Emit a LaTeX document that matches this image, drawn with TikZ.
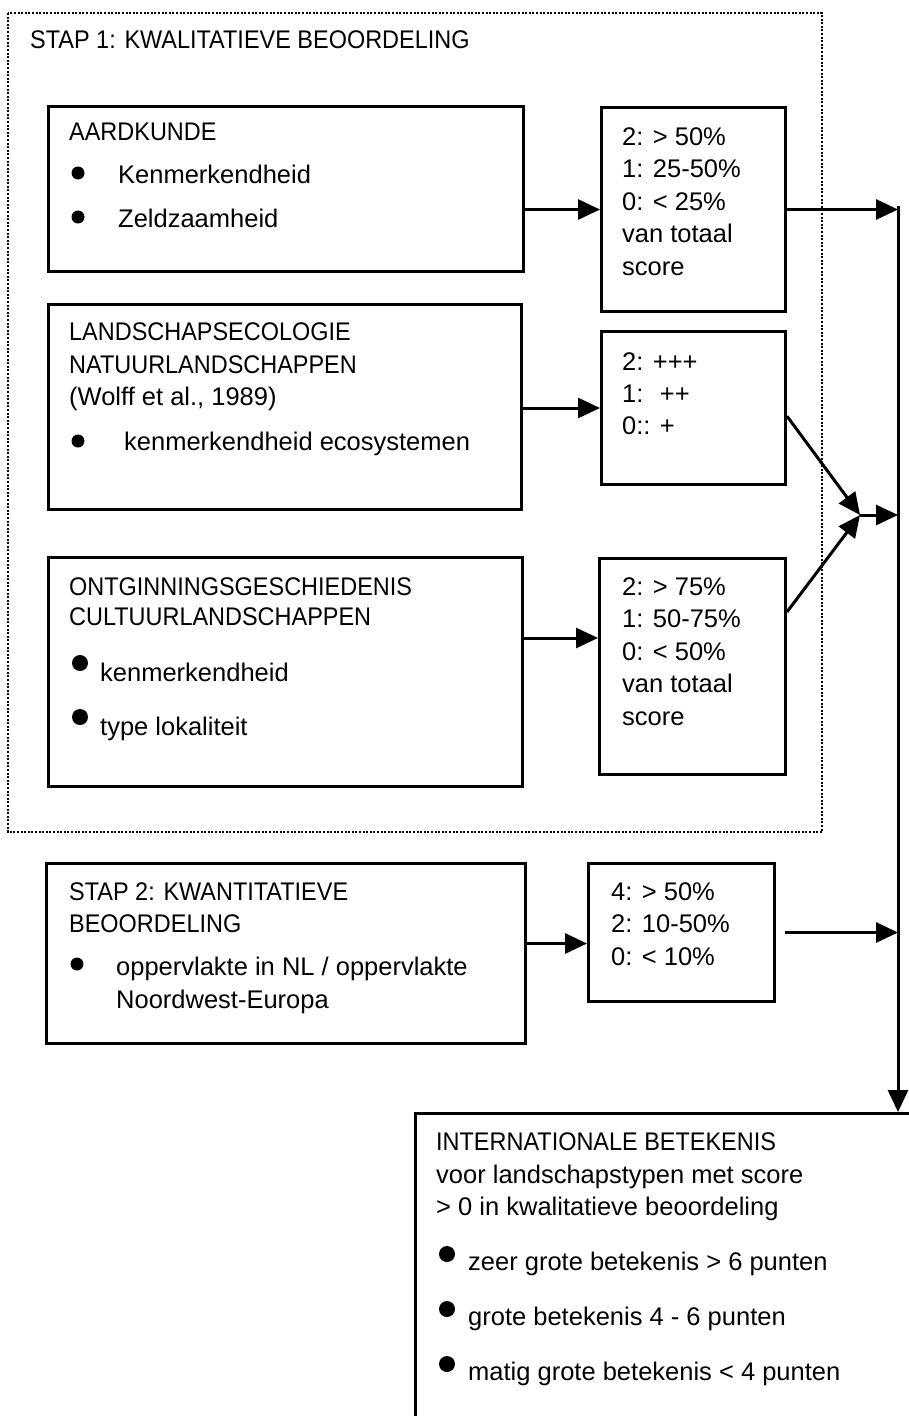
\documentclass[tikz,border=0pt]{standalone}
\usepackage{fontspec}
\setmainfont{Liberation Sans}
\newfontfamily\capsfont[FakeStretch=0.92]{Liberation Sans}
\usetikzlibrary{arrows.meta}

\begin{document}
\begin{tikzpicture}[x=1pt, y=-1pt, font=\fontsize{25.5}{30}\selectfont,
    box/.style={draw, line width=3pt, inner sep=0pt, anchor=north west},
    txt/.style={anchor=base west, inner sep=0pt},
    caps/.style={txt, font=\fontsize{25.5}{30}\capsfont},
    arr/.style={line width=3pt, -{Triangle[length=22pt, width=20pt]}},
    frame/.style={line width=2.6pt, dash pattern=on 2pt off 1.6pt}]
    \useasboundingbox (0,0) rectangle (909,1416);
    \clip (0,0) rectangle (909,1416);
    
    % stap 1
    \draw[frame] (8,13) rectangle (822,832);
    \node[caps] (s1title) at (30,48) {STAP 1: KWALITATIEVE BEOORDELING};
    
    \node[box, minimum width=475pt, minimum height=165pt] (aard) at (47,105) {};
    \node[caps] (aard-t) at (69,140) {AARDKUNDE};
    \foreach \y/\t [count=\i] in {183/Kenmerkendheid, 227/Zeldzaamheid}{
      \fill (78,\y-10) circle[radius=6.5pt];
      \node[txt] (aard-\i) at (118,\y) {\t};
    }
    
    \node[box, minimum width=473pt, minimum height=205pt] (lse) at (47,303) {};
    \node[caps] (lse-t1) at (69,340) {LANDSCHAPSECOLOGIE};
    \node[caps] (lse-t2) at (69,373) {NATUURLANDSCHAPPEN};
    \node[txt] (lse-t3) at (69,405) {(Wolff et al., 1989)};
    \fill (78,441) circle[radius=6.5pt];
    \node[txt] (lse-1) at (124,450) {kenmerkendheid ecosystemen};
    
    \node[box, minimum width=474pt, minimum height=229pt] (ont) at (47,556) {};
    \node[caps] (ont-t1) at (69,595) {ONTGINNINGSGESCHIEDENIS};
    \node[caps] (ont-t2) at (69,625) {CULTUURLANDSCHAPPEN};
    \foreach \y/\t [count=\i] in {681/kenmerkendheid, 735/type lokaliteit}{
      \fill (80,\y-18) circle[radius=8pt];
      \node[txt] (ont-\i) at (100,\y) {\t};
    }
    
    % scores stap 1
    \node[box, minimum width=184pt, minimum height=204pt] (bA) at (600,106) {};
    \foreach \y/\t [count=\i] in {145/{2: > 50\%}, 177/{1: 25-50\%},
      210/{0: < 25\%}, 242/{van totaal}, 275/score}
    \node[txt] (bA-\i) at (622,\y) {\t};
    
    \node[box, minimum width=184pt, minimum height=153pt] (bL) at (600,330) {};
    \foreach \y/\t [count=\i] in {370/{2: +++}, 402/{1: \ ++}, 434/{0:: +}}
    \node[txt] (bL-\i) at (622,\y) {\t};
    
    \node[box, minimum width=186pt, minimum height=216pt] (bO) at (598,557) {};
    \foreach \y/\t [count=\i] in {595/{2: > 75\%}, 627/{1: 50-75\%},
      660/{0: < 50\%}, 692/{van totaal}, 725/score}
    \node[txt] (bO-\i) at (622,\y) {\t};
    
    % stap 2
    \node[box, minimum width=479pt, minimum height=180pt] (stap2) at (45,862) {};
    \node[caps] (stap2-t1) at (69,900) {STAP 2: KWANTITATIEVE};
    \node[caps] (stap2-t2) at (69,932) {BEOORDELING};
    \fill (77,964) circle[radius=6.5pt];
    \node[txt] (stap2-1) at (116,975) {oppervlakte in NL / oppervlakte};
    \node[txt] (stap2-2) at (116,1008) {Noordwest-Europa};
    
    \node[box, minimum width=186pt, minimum height=138pt] (bQ) at (587,862) {};
    \foreach \y/\t [count=\i] in {900/{4: > 50\%}, 932/{2: 10-50\%}, 965/{0: < 10\%}}
    \node[txt] (bQ-\i) at (611,\y) {\t};
    
    % eindoordeel
    \node[box, minimum width=700pt, minimum height=400pt] (intl) at (414,1112) {};
    \node[caps] (intl-t1) at (436,1150) {INTERNATIONALE BETEKENIS};
    \node[txt] (intl-t2) at (436,1183) {voor landschapstypen met score};
    \node[txt] (intl-t3) at (436,1215) {> 0 in kwalitatieve beoordeling};
    \foreach \y/\t [count=\i] in {1270/{zeer grote betekenis > 6 punten},
      1325/{grote betekenis 4 - 6 punten}, 1380/{matig grote betekenis < 4 punten}}{
      \fill (447,\y-16) circle[radius=8pt];
      \node[txt] (intl-\i) at (468,\y) {\t};
    }
    
    % verbindingen
    \coordinate (top) at (898,206);
    \coordinate (merge) at (860,515);
    \coordinate (qin) at ([shift={(0,11)}]bQ.west);
    \draw[arr] (aard.east |- bA.west) -- (bA.west);
    \draw[arr] (lse.east |- bL.west) -- (bL.west);
    \draw[arr] ([shift={(0,-34)}]ont.east) -- ([shift={(0,-34)}]ont.east -| bO.west);
    \draw[arr] (stap2.east |- qin) -- (qin);
    \draw[arr] (bA.east) -- (bA.east -| top);
    \draw[arr] (bL.-5) -- (merge);
    \draw[arr] (bO.30) -- (merge);
    \draw[arr] (merge) -- (merge -| top);
    \draw[arr] ([shift={(9,0)}]bQ.east) -- (bQ.east -| top);
    \draw[arr] (top) -- (top |- intl.north);
  \end{tikzpicture}
\end{document}
